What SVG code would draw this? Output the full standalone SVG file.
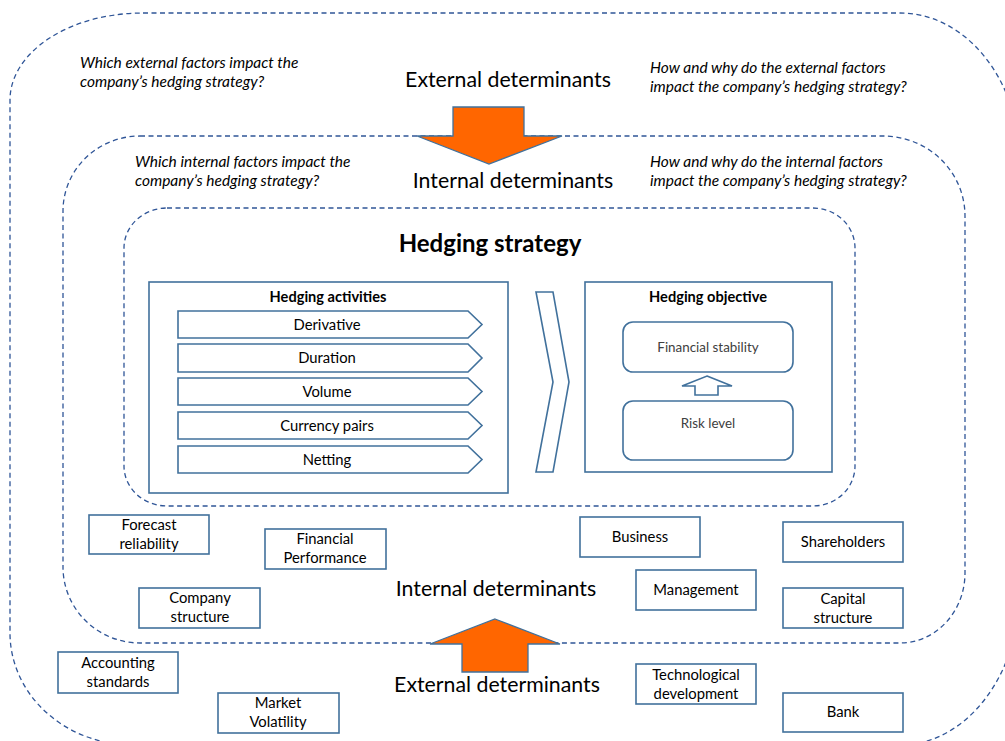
<svg xmlns="http://www.w3.org/2000/svg" width="1005" height="741" viewBox="0 0 1005 741">
<style>
.dash{fill:none;stroke:#2F5597;stroke-width:1.3;stroke-dasharray:5 3.5}
.box{fill:#fff;stroke:#41719C;stroke-width:1.6}
.t{font-family:Lato,"Liberation Sans",sans-serif;fill:#000;text-anchor:middle}
.q{font-family:Lato,"Liberation Sans",sans-serif;font-style:italic;font-size:15.5px;fill:#000}
.big{font-size:21.3px}
.bt{font-size:14.8px}
.hd{font-size:14.6px;font-weight:bold}
.g{fill:#404040;font-size:13.4px}
.orange{fill:#FF6600;stroke:#41719C;stroke-width:1.3}
</style>
<rect width="1005" height="741" fill="#fff"/>
<g id="frames">
<path id="external-frame" class="dash" d="M143,13 H900 A120,150 0 0 1 1020,163 V589 A120,156 0 0 1 900,745 H133 A123,112 0 0 1 10,633 V100 A133,87 0 0 1 143,13 Z"/>
<path id="internal-frame" class="dash" d="M140,136 H883 A82,80 0 0 1 965,216 V573 A65,70 0 0 1 900,643 H140 A77,76 0 0 1 63,567 V211 A77,75 0 0 1 140,136 Z"/>
<path id="strategy-frame" class="dash" d="M167,208 H813 A42,40 0 0 1 855,248 V466 A42,40 0 0 1 813,506 H167 A43,40 0 0 1 124,466 V248 A43,40 0 0 1 167,208 Z"/>
</g>
<g id="labels">
<text class="q" x="80" y="68">Which external factors impact the</text>
<text class="q" x="80" y="87">company’s hedging strategy?</text>
<text class="q" x="650" y="73">How and why do the external factors</text>
<text class="q" x="650" y="92">impact the company’s hedging strategy?</text>
<text class="q" x="135" y="167">Which internal factors impact the</text>
<text class="q" x="135" y="186">company’s hedging strategy?</text>
<text class="q" x="650" y="167">How and why do the internal factors</text>
<text class="q" x="650" y="186">impact the company’s hedging strategy?</text>
<text class="t big" x="508" y="87">External determinants</text>
<text class="t big" x="513" y="188">Internal determinants</text>
<text class="t big" x="496" y="596">Internal determinants</text>
<text class="t big" x="497" y="692">External determinants</text>
<text class="t" x="490" y="252" font-size="24" font-weight="bold">Hedging strategy</text>
</g>
<g id="hedging-activities">
<rect class="box" x="149" y="282" width="359" height="211"/>
<text class="t hd" x="328" y="302">Hedging activities</text>
</g>
<g id="derivative"><polygon class="box" points="178,311 468,311 482,324.5 468,338 178,338"/><text class="t bt" x="327" y="330">Derivative</text></g>
<g id="duration"><polygon class="box" points="178,344 468,344 482,358 468,372 178,372"/><text class="t bt" x="327" y="363">Duration</text></g>
<g id="volume"><polygon class="box" points="178,378 468,378 482,391.5 468,405 178,405"/><text class="t bt" x="327" y="397">Volume</text></g>
<g id="currency-pairs"><polygon class="box" points="178,412 468,412 482,425.5 468,439 178,439"/><text class="t bt" x="327" y="431">Currency pairs</text></g>
<g id="netting"><polygon class="box" points="178,446 468,446 482,459.5 468,473 178,473"/><text class="t bt" x="327" y="465">Netting</text></g>
<g id="hedging-objective">
<rect class="box" x="585" y="282" width="247" height="190"/>
<text class="t hd" x="708" y="302">Hedging objective</text>
</g>
<g id="financial-stability"><rect class="box" x="623" y="322" width="170" height="50" rx="10"/><text class="t g" x="708" y="352">Financial stability</text></g>
<g id="risk-level"><rect class="box" x="623" y="401" width="170" height="59" rx="10"/><text class="t g" x="708" y="428">Risk level</text></g>
<g id="forecast-reliability"><rect class="box" x="89" y="515" width="120" height="39"/><text class="t bt" x="149" y="530">Forecast</text><text class="t bt" x="149" y="549">reliability</text></g>
<g id="financial-performance"><rect class="box" x="265" y="529" width="121" height="40"/><text class="t bt" x="325" y="544">Financial</text><text class="t bt" x="325" y="563">Performance</text></g>
<g id="company-structure"><rect class="box" x="139" y="588" width="121" height="40"/><text class="t bt" x="200" y="603">Company</text><text class="t bt" x="200" y="622">structure</text></g>
<g id="accounting-standards"><rect class="box" x="58" y="652" width="120" height="41"/><text class="t bt" x="118" y="668">Accounting</text><text class="t bt" x="118" y="687">standards</text></g>
<g id="market-volatility"><rect class="box" x="218" y="693" width="121" height="40"/><text class="t bt" x="278" y="708">Market</text><text class="t bt" x="278" y="727">Volatility</text></g>
<g id="business"><rect class="box" x="580" y="517" width="120" height="40"/><text class="t bt" x="640" y="542">Business</text></g>
<g id="shareholders"><rect class="box" x="783" y="522" width="120" height="40"/><text class="t bt" x="843" y="547">Shareholders</text></g>
<g id="management"><rect class="box" x="636" y="570" width="120" height="40"/><text class="t bt" x="696" y="595">Management</text></g>
<g id="capital-structure"><rect class="box" x="783" y="588" width="120" height="40"/><text class="t bt" x="843" y="604">Capital</text><text class="t bt" x="843" y="623">structure</text></g>
<g id="technological-development"><rect class="box" x="636" y="664" width="120" height="40"/><text class="t bt" x="696" y="680">Technological</text><text class="t bt" x="696" y="699">development</text></g>
<g id="bank"><rect class="box" x="783" y="693" width="120" height="39"/><text class="t bt" x="843" y="717">Bank</text></g>
<g id="connectors">
<polygon id="arrow-down" class="orange" points="453,107 524,107 524,136 562,136 489,164 417,136 453,136"/>
<polygon id="arrow-up" class="orange" points="495,619 560,644 528,644 528,672 462,672 462,644 430,644"/>
<polygon id="chevron" class="box" points="536,292 553,292 569,382 553,472 536,472 553,382"/>
<polygon id="arrow-risk" class="box" points="707,376 732,386 718,386 718,395 695,395 695,386 682,386"/>
</g>
</svg>
